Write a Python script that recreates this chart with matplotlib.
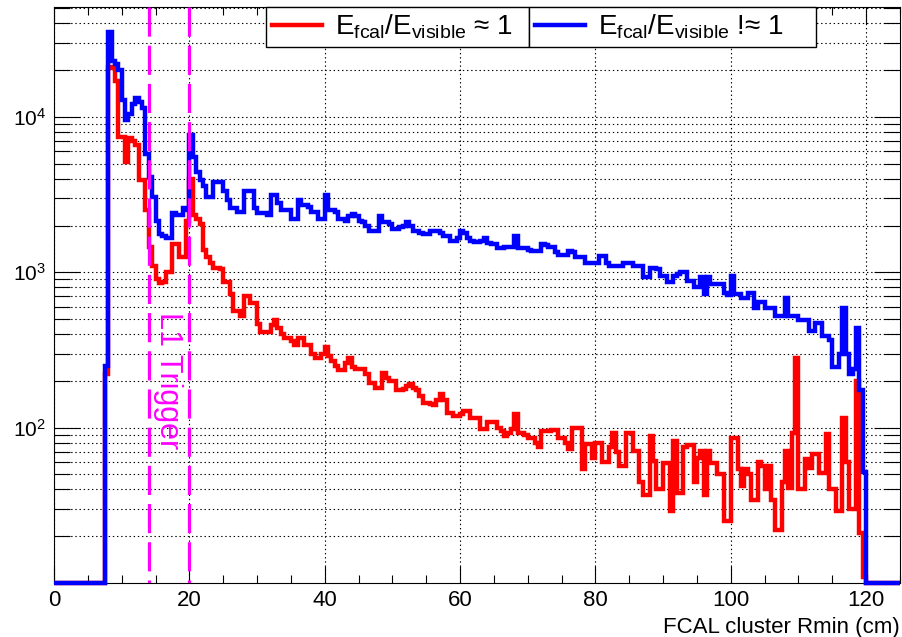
import numpy as np
import matplotlib
matplotlib.use('Agg')
import matplotlib.pyplot as plt
from matplotlib.lines import Line2D
from matplotlib.ticker import MultipleLocator, FixedLocator, LogLocator, LogFormatterSciNotation, NullFormatter

plt.rcParams['font.family'] = ['Liberation Sans', 'DejaVu Sans']
plt.rcParams['mathtext.fontset'] = 'custom'
plt.rcParams['mathtext.rm'] = 'Liberation Sans'
plt.rcParams['mathtext.it'] = 'Liberation Sans:italic'
plt.rcParams['lines.scale_dashes'] = False

# histogram: 0.5 cm bins starting at 7.5 cm (everything outside is empty)
r_first = 7.5
bin_w = 0.5
x_max = 125

# E_fcal/E_visible ~ 1
red_counts = [
    220, 21000, 20500, 17000, 7400, 7400, 5100, 7300, 7000, 6600,      # 7.5 - 12
    3900, 3900, 2500, 1450, 1100, 910, 850, 870, 1000, 1000,           # 12.5 - 17
    1530, 1530, 1250, 1250, 2150, 4000, 2350, 2200, 2050, 1400,        # 17.5 - 22
    1250, 1150, 1070, 1070, 1050, 860, 860, 730, 560, 560,             # 22.5 - 27
    520, 700, 700, 630, 630, 465, 410, 410, 410, 460,                  # 27.5 - 32
    490, 440, 400, 375, 375, 360, 340, 380, 380, 340,                  # 32.5 - 37
    340, 300, 280, 280, 300, 330, 290, 270, 250, 235,                  # 37.5 - 42
    235, 260, 280, 245, 240, 240, 240, 220, 195, 195,                  # 42.5 - 47
    180, 180, 225, 210, 200, 200, 175, 175, 178, 185,                  # 47.5 - 52
    190, 180, 175, 160, 145, 145, 142, 140, 150, 165,                  # 52.5 - 57
    150, 125, 125, 118, 118, 122, 128, 128, 116, 116,                  # 57.5 - 62
    116, 98, 98, 108, 108, 108, 100, 95, 89, 92,                       # 62.5 - 67
    98, 122, 93, 93, 90, 86, 86, 80, 75, 95,                           # 67.5 - 72
    95, 95, 96, 96, 86, 86, 80, 73, 100, 100,                          # 72.5 - 77
    100, 54, 79, 79, 64, 80, 80, 60, 60, 75,                           # 77.5 - 82
    93, 70, 57, 57, 93, 93, 71, 71, 45, 37,                            # 82.5 - 87
    37, 89, 61, 40, 40, 59, 59, 29, 82, 38,                            # 87.5 - 92
    38, 75, 77, 77, 45, 64, 71, 37, 71, 59,                            # 92.5 - 97
    59, 50, 50, 25, 25, 86, 86, 54, 42, 54,                            # 97.5 - 102
    50, 34, 34, 60, 57, 40, 57, 34, 22, 22,                            # 102.5 - 107
    45, 71, 41, 93, 280, 40, 40, 63, 55, 68,                           # 107.5 - 112
    68, 51, 51, 91, 40, 40, 29, 29, 116, 60,                           # 112.5 - 117
    30, 30, 200, 21, 11,                                               # 117.5 - 119.5
]

# E_fcal/E_visible !~ 1
blue_counts = [
    250, 35000, 23000, 22000, 20000, 12800, 9500, 10500, 12200, 13200,
    12500, 11400, 5800, 4100, 3050, 2150, 1770, 1700, 1650, 1650,
    2400, 2350, 2350, 2600, 2500, 7600, 5500, 4400, 3900, 3600,
    3050, 3050, 3800, 3800, 3800, 3350, 2900, 2600, 2600, 2450,
    2450, 3350, 3350, 3350, 2600, 2400, 2400, 2400, 2350, 3150,
    3150, 2800, 2500, 2500, 2500, 2200, 2200, 2900, 2700, 2700,
    2650, 2450, 2450, 2200, 2200, 3150, 2500, 2500, 2450, 2200,
    2200, 2150, 2300, 2380, 2300, 2150, 2100, 2000, 1850, 1850,
    1850, 2300, 2100, 2100, 2050, 1900, 1900, 1950, 2000, 2100,
    2000, 1850, 1850, 1800, 1770, 1770, 1850, 1850, 1850, 1800,
    1720, 1700, 1600, 1600, 1650, 1850, 1800, 1650, 1600, 1570,
    1570, 1600, 1650, 1550, 1530, 1530, 1430, 1430, 1450, 1450,
    1450, 1720, 1430, 1430, 1430, 1400, 1380, 1380, 1380, 1530,
    1500, 1450, 1450, 1350, 1300, 1300, 1300, 1380, 1350, 1250,
    1250, 1250, 1150, 1150, 1150, 1150, 1270, 1270, 1150, 1100,
    1100, 1100, 1100, 1150, 1150, 1150, 1100, 1100, 1100, 930,
    930, 1070, 1070, 1050, 950, 950, 860, 860, 950, 980,
    1000, 1000, 880, 880, 800, 800, 930, 720, 930, 840,
    840, 840, 840, 740, 710, 950, 720, 720, 680, 680,
    740, 740, 585, 640, 640, 585, 585, 585, 520, 520,
    520, 680, 520, 520, 520, 490, 490, 490, 420, 420,
    470, 470, 390, 390, 365, 245, 245, 300, 585, 300,
    220, 240, 435, 175, 52,
]

trigger_cuts = [14, 20]
label_red = r'$\mathregular{E_{fcal}/E_{visible}}$ ≈ 1'
label_blue = r'$\mathregular{E_{fcal}/E_{visible}}$ !≈ 1'

y_min, y_max = 10, 5.1e4

edges = np.concatenate([[0], r_first + bin_w * np.arange(len(red_counts) + 1), [x_max]])


def padded(v):
    # empty bins are drawn on the bottom of the frame like ROOT does
    return np.clip(np.concatenate([[0], v, [0]]), y_min, None)


fig = plt.figure(figsize=(9.02, 6.37), dpi=100)
ax = fig.add_axes([54 / 902, 1 - 583 / 637, 846 / 902, 576 / 637])

ax.stairs(padded(red_counts), edges, baseline=None, color='#ff0000', lw=3.2, clip_on=False, zorder=3)
ax.stairs(padded(blue_counts), edges, baseline=None, color='#0000ff', lw=3.2, clip_on=False, zorder=4)

for xc in trigger_cuts:
    ax.plot([xc, xc], [1, 0], transform=ax.get_xaxis_transform(), color='#ff00ff',
            lw=2.3, dashes=(21, 6.5), zorder=5)
ax.text(16.8, 200, 'L1 Trigger', color='#ff00ff', fontsize=22, rotation=-90,
        ha='center', va='center', zorder=6)

ax.set_yscale('log')
ax.set_xlim(0, x_max)
ax.set_ylim(y_min, y_max)

ax.xaxis.set_major_locator(MultipleLocator(20))
ax.xaxis.set_minor_locator(MultipleLocator(5))
ax.yaxis.set_major_locator(FixedLocator([1e2, 1e3, 1e4]))
ax.yaxis.set_major_formatter(LogFormatterSciNotation())
ax.yaxis.set_minor_locator(LogLocator(base=10, subs=np.arange(2, 10)))
ax.yaxis.set_minor_formatter(NullFormatter())

ax.tick_params(which='both', direction='in', top=True, right=True, width=0.8, color='black')
ax.tick_params(axis='x', which='major', length=12, pad=5, labelsize=16)
ax.tick_params(axis='x', which='minor', length=6)
ax.tick_params(axis='y', which='major', length=19, pad=6, labelsize=15)
ax.tick_params(axis='y', which='minor', length=11.5)

grid_kw = dict(color='black', lw=0.8, ls=(0, (1, 2)))
ax.grid(True, which='major', axis='x', **grid_kw)
ax.grid(True, which='both', axis='y', **grid_kw)
ax.set_axisbelow(True)
for sp in ax.spines.values():
    sp.set_linewidth(0.8)

ax.set_xlabel('FCAL cluster Rmin (cm)', fontsize=16, loc='right', labelpad=4)

# two separate legend boxes side by side at the top
boxes = [(266, 529, '#ff0000', label_red), (529, 816, '#0000ff', label_blue)]
for x0, x1, col, lab in boxes:
    h = Line2D([], [], color=col, lw=3.2)
    leg = fig.legend([h], [lab], loc='upper left',
                     bbox_to_anchor=(x0 / 902, 1 - 7 / 637, (x1 - x0) / 902, 0),
                     mode='expand', fancybox=False, framealpha=1, edgecolor='black',
                     fontsize=20, handlelength=1.8, handletextpad=0.5,
                     borderpad=0.2, borderaxespad=0)
    leg.get_frame().set_linewidth(1.0)

fig.savefig('out.png', dpi=100)
